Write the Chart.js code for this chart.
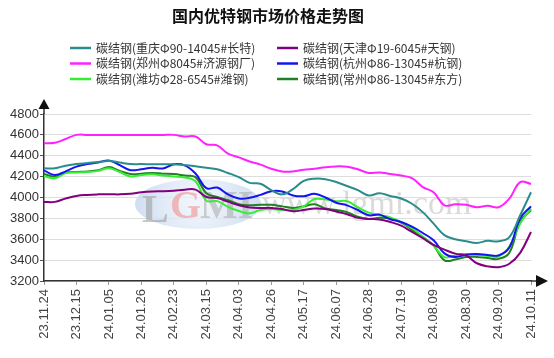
<!DOCTYPE html>
<html>
<head>
<meta charset="utf-8">
<script src="https://cdn.jsdelivr.net/npm/chart.js@4.4.0/dist/chart.umd.min.js"></script>
<style>
html,body{margin:0;padding:0;background:#fff;}
#wrap{width:554px;height:358px;position:relative;}
</style>
</head>
<body>
<div id="wrap"><canvas id="c" width="554" height="358"></canvas></div>
<script>
const titleText = "国内优特钢市场价格走势图";
const dates = ["23.11.24","23.12.01","23.12.08","23.12.15","23.12.22","23.12.29","24.01.05","24.01.12","24.01.19","24.01.26","24.02.02","24.02.18","24.02.23","24.03.01","24.03.08","24.03.15","24.03.22","24.03.29","24.04.03","24.04.12","24.04.19","24.04.26","24.04.30","24.05.10","24.05.17","24.05.24","24.05.31","24.06.07","24.06.14","24.06.21","24.06.28","24.07.05","24.07.12","24.07.19","24.07.26","24.08.02","24.08.09","24.08.16","24.08.23","24.08.30","24.09.06","24.09.13","24.09.20","24.09.27","24.09.30","24.10.11"];
const yTicks = [3200,3400,3600,3800,4000,4200,4400,4600,4800];

const seriesNames = [
  "碳结钢(重庆Φ90-14045#长特)",
  "碳结钢(天津Φ19-6045#天钢)",
  "碳结钢(郑州Φ8045#济源钢厂)",
  "碳结钢(杭州Φ86-13045#杭钢)",
  "碳结钢(潍坊Φ28-6545#潍钢)",
  "碳结钢(常州Φ86-13045#东方)"
];
const seriesColors = ["#2b8c8c","#800080","#ff22ff","#1414f0","#33ee33","#228022"];

const chongqing = [4280,4280,4305,4320,4330,4340,4350,4335,4320,4320,4318,4318,4318,4310,4300,4285,4270,4235,4195,4140,4132,4070,4030,4080,4160,4180,4175,4148,4110,4070,4020,4040,4015,3990,3940,3860,3750,3640,3600,3580,3565,3585,3580,3620,3830,4050];
const tianjin = [3958,3958,3990,4015,4025,4030,4032,4030,4035,4050,4058,4060,4065,4075,4075,4005,3995,3960,3925,3905,3900,3900,3890,3868,3880,3895,3890,3865,3840,3805,3795,3790,3765,3730,3670,3610,3545,3500,3462,3445,3370,3340,3332,3365,3470,3670];
const zhengzhou = [4520,4525,4560,4600,4600,4600,4600,4600,4600,4600,4600,4600,4600,4585,4585,4510,4500,4420,4385,4345,4315,4275,4250,4250,4265,4275,4290,4298,4295,4270,4235,4240,4225,4210,4185,4100,4050,3925,3935,3930,3907,3920,3907,3990,4148,4130];
const hangzhou = [4260,4215,4250,4296,4320,4335,4355,4310,4262,4270,4285,4278,4318,4308,4230,4090,4095,4030,3990,3997,4025,4060,4058,4020,4012,4035,4000,3950,3925,3880,3830,3836,3792,3765,3720,3660,3590,3465,3430,3452,3458,3450,3445,3521,3800,3915];
const weifang = [4205,4185,4235,4240,4245,4255,4280,4244,4202,4215,4222,4210,4202,4192,4155,3970,3965,3910,3870,3848,3880,3890,3880,3880,3915,3985,3980,3965,3965,3905,3855,3830,3810,3765,3705,3625,3540,3428,3445,3458,3448,3440,3435,3530,3750,3894];
const changzhou = [4225,4200,4240,4245,4250,4262,4292,4255,4225,4228,4235,4228,4225,4210,4195,4040,4005,3975,3935,3925,3930,3930,3915,3900,3915,3935,3895,3880,3860,3815,3795,3805,3798,3760,3690,3620,3540,3398,3405,3430,3430,3420,3412,3470,3770,3878];

const seriesData = [chongqing, tianjin, zhengzhou, hangzhou, weifang, changzhou];

const decoPlugin = {
  id: 'deco',
  beforeDatasetsDraw(chart) {
    const ctx = chart.ctx;
    ctx.save();
    // faint LGMI logo watermark
    ctx.beginPath();
    ctx.ellipse(198, 204, 63, 25, 0, 0, Math.PI * 2);
    const g = ctx.createRadialGradient(198, 200, 10, 198, 204, 63);
    g.addColorStop(0, 'rgba(236,242,250,0.8)');
    g.addColorStop(1, 'rgba(196,214,238,0.8)');
    ctx.fillStyle = g;
    ctx.fill();
    ctx.font = 'bold 40px "Liberation Serif", serif';
    ctx.textBaseline = 'alphabetic';
    ctx.textAlign = 'left';
    ctx.fillStyle = 'rgba(160,160,160,0.6)';
    ctx.fillText('L', 142, 222);
    ctx.fillStyle = 'rgba(240,150,150,0.65)';
    ctx.fillText('G', 170, 218);
    ctx.fillStyle = 'rgba(170,170,170,0.55)';
    ctx.fillText('MI', 200, 218);
    // text watermark
    ctx.font = '34px "Liberation Serif", serif';
    ctx.fillStyle = 'rgba(150,150,150,0.35)';
    ctx.fillText('www.lgmi.com', 262, 214);
    ctx.restore();
  },
  afterDraw(chart) {
    const ctx = chart.ctx;
    const a = chart.chartArea;
    ctx.save();
    // title
    ctx.fillStyle = '#111';
    ctx.font = 'bold 16px "Noto Sans CJK SC", sans-serif';
    ctx.textAlign = 'center';
    ctx.textBaseline = 'middle';
    ctx.fillText(titleText, 268, 16);
    // legend
    ctx.font = '12px "Noto Sans CJK SC", sans-serif';
    ctx.textAlign = 'left';
    const colX = [70, 277];
    const rowY = [48, 63.5, 79];
    for (let i = 0; i < seriesNames.length; i++) {
      const x = colX[i % 2], y = rowY[Math.floor(i / 2)];
      ctx.strokeStyle = seriesColors[i];
      ctx.lineWidth = 2.5;
      ctx.beginPath();
      ctx.moveTo(x, y);
      ctx.lineTo(x + 21, y);
      ctx.stroke();
      ctx.fillStyle = '#333';
      ctx.fillText(seriesNames[i], x + 26, y);
    }
    // axis arrows
    ctx.strokeStyle = '#333';
    ctx.fillStyle = '#111';
    ctx.lineWidth = 1.5;
    ctx.beginPath();
    ctx.moveTo(a.left, a.top);
    ctx.lineTo(a.left, 106);
    ctx.moveTo(a.right, a.bottom);
    ctx.lineTo(538, a.bottom);
    ctx.stroke();
    ctx.beginPath();
    ctx.moveTo(a.left, 99);
    ctx.lineTo(a.left - 5.5, 109);
    ctx.lineTo(a.left + 5.5, 109);
    ctx.closePath();
    ctx.fill();
    ctx.beginPath();
    ctx.moveTo(548, a.bottom);
    ctx.lineTo(536, a.bottom - 6);
    ctx.lineTo(536, a.bottom + 6);
    ctx.closePath();
    ctx.fill();
    ctx.restore();
  }
};

new Chart(document.getElementById('c'), {
  type: 'line',
  data: {
    labels: dates,
    datasets: seriesNames.map((n, i) => ({
      label: n,
      data: seriesData[i],
      borderColor: seriesColors[i],
      backgroundColor: seriesColors[i],
      borderWidth: 2,
      pointRadius: 0,
      tension: 0.4,
      fill: false
    }))
  },
  options: {
    responsive: false,
    animation: false,
    layout: { padding: { top: 114, right: 23, left: 0, bottom: 0 } },
    plugins: { legend: { display: false }, title: { display: false }, tooltip: { enabled: false } },
    scales: {
      x: {
        type: 'category',
        offset: false,
        afterFit(s) { s.height = 77; },
        grid: { drawOnChartArea: false, drawTicks: true, tickLength: 4, tickColor: '#999' },
        border: { display: true, color: '#333', width: 1.5 },
        ticks: {
          autoSkip: false, maxRotation: 90, minRotation: 90, padding: 4,
          color: '#444', font: { family: '"Liberation Sans", Arial, sans-serif', size: 13 },
          callback: (v, i) => (i % 3 === 0 ? dates[i] : null)
        }
      },
      y: {
        min: yTicks[0], max: yTicks[yTicks.length - 1],
        afterFit(s) { s.width = 44; },
        afterBuildTicks(s) { s.ticks = yTicks.map(v => ({ value: v })); },
        grid: { color: '#dddddd', lineWidth: 1, tickLength: 4, tickColor: '#555' },
        border: { display: true, color: '#333', width: 1.5 },
        ticks: {
          padding: 1, color: '#333',
          font: { family: '"Liberation Sans", Arial, sans-serif', size: 13 },
          callback: v => String(v)
        }
      }
    }
  },
  plugins: [decoPlugin]
});
</script>
</body>
</html>
